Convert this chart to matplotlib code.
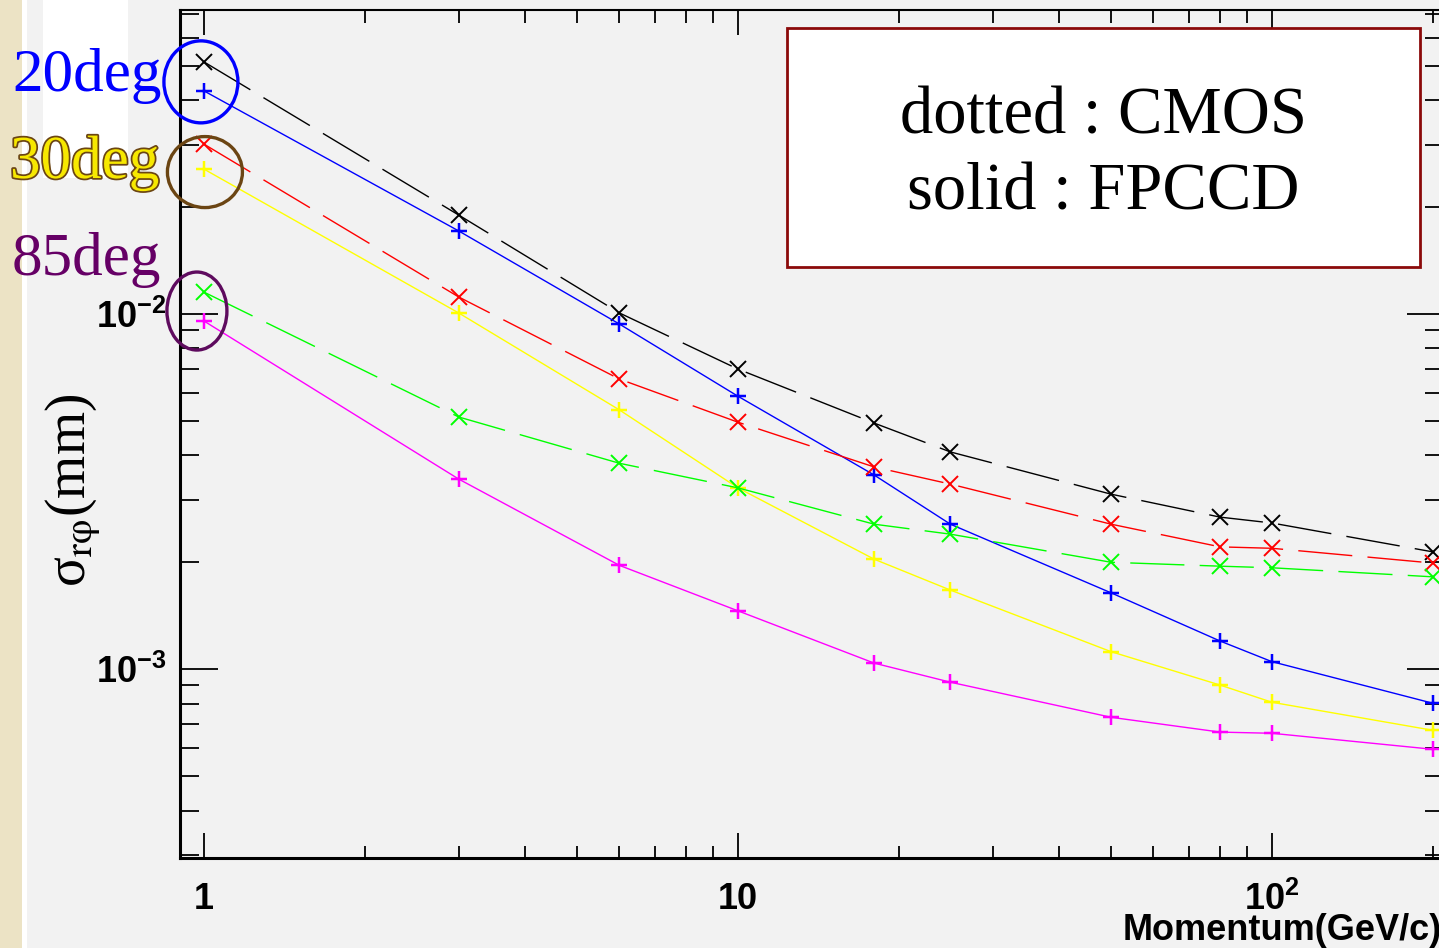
import matplotlib
matplotlib.use('Agg')
import matplotlib.pyplot as plt
import matplotlib.patheffects as pe
from matplotlib.patches import Ellipse, Rectangle
from matplotlib import font_manager

# momentum points (GeV/c)
momentum = [1, 3, 6, 10, 18, 25, 50, 80, 100, 200]

# sigma_rphi (mm), CMOS = dashed, FPCCD = solid
cmos_20 = [0.0513, 0.0190, 0.01007, 0.00700, 0.00493, 0.00409, 0.00311, 0.00268, 0.00258, 0.00214]
fpccd_20 = [0.0425, 0.01714, 0.00937, 0.00587, 0.00352, 0.00256, 0.00164, 0.00120, 0.00105, 0.000802]
cmos_30 = [0.0301, 0.01117, 0.00656, 0.00496, 0.00371, 0.00332, 0.00256, 0.00221, 0.00219, 0.00199]
fpccd_30 = [0.0256, 0.01007, 0.00537, 0.00324, 0.00204, 0.00167, 0.00112, 0.000902, 0.000807, 0.000673]
cmos_85 = [0.01153, 0.00513, 0.00380, 0.00324, 0.00256, 0.00240, 0.00200, 0.00195, 0.00193, 0.00182]
fpccd_85 = [0.00956, 0.00343, 0.00196, 0.00146, 0.00104, 0.000919, 0.000732, 0.000665, 0.000660, 0.000595]

angle_labels = ['20deg', '30deg', '85deg']
legend_lines = ['dotted : CMOS', 'solid : FPCCD']

names = {f.name for f in font_manager.fontManager.ttflist}
sans = 'Liberation Sans Narrow' if 'Liberation Sans Narrow' in names else 'Liberation Sans'
serif = 'Liberation Serif'
narrow = sans.endswith('Narrow')
tick_fs = 28 if narrow else 26
xlab_fs = 30 if narrow else 26

plt.rcParams['mathtext.fontset'] = 'custom'
plt.rcParams['mathtext.rm'] = sans + ':bold'
plt.rcParams['mathtext.it'] = sans + ':bold'
plt.rcParams['mathtext.bf'] = sans + ':bold'

W, H = 1439, 948
fig = plt.figure(figsize=(W / 100, H / 100), dpi=100, facecolor='#f2f2f2')


def fx(x):
    return x / W


def fy(y):
    return 1 - y / H


# background decoration on the left
fig.add_artist(Rectangle((0, 0), fx(22), 1, transform=fig.transFigure,
                         fc='#ece3c5', ec='none', zorder=-2))
fig.add_artist(Rectangle((fx(22), 0), fx(5), 1, transform=fig.transFigure,
                         fc='white', ec='none', zorder=-2))
fig.add_artist(Rectangle((fx(43), fy(178)), fx(85), 178 / H, transform=fig.transFigure,
                         fc='white', ec='none', zorder=-2))

ax_l, ax_r, ax_t, ax_b = 180, 1444, 10, 858
ax = fig.add_axes([fx(ax_l), fy(ax_b), (ax_r - ax_l) / W, (ax_b - ax_t) / H])
ax.set_facecolor('#f2f2f2')
ax.set_xscale('log')
ax.set_yscale('log')
ax.set_xlim(0.902, 210)
ax.set_ylim(2.94e-4, 0.0718)

dash = (39, 11)
ms, mew = 11.5, 1.4
ax.plot(momentum, cmos_20, color='black', lw=1, dashes=dash, marker='x', ms=ms, mew=mew)
ax.plot(momentum, fpccd_20, color='#0000ff', lw=1, marker='+', ms=ms, mew=mew + 0.4)
ax.plot(momentum, cmos_30, color='#ff0000', lw=1, dashes=dash, marker='x', ms=ms, mew=mew)
ax.plot(momentum, fpccd_30, color='#ffff00', lw=1, marker='+', ms=ms, mew=mew + 0.4)
ax.plot(momentum, cmos_85, color='#00ff00', lw=1, dashes=dash, marker='x', ms=ms, mew=mew)
ax.plot(momentum, fpccd_85, color='#ff00ff', lw=1, marker='+', ms=ms, mew=mew + 0.4)

for side in ['left', 'bottom']:
    ax.spines[side].set_linewidth(2.2)
for side in ['top', 'right']:
    ax.spines[side].set_linewidth(1.5)

ax.tick_params(which='both', direction='in', top=True, right=True, width=1.3, color='black')
ax.tick_params(axis='x', which='major', length=18, pad=17)
ax.tick_params(axis='x', which='minor', length=9)
ax.tick_params(axis='y', which='major', length=27, pad=10)
ax.tick_params(axis='y', which='minor', length=13.5)

ax.set_xticks([1, 10, 100])
ax.set_xticklabels(['1', '10', '10$^{2}$'])
ax.set_yticks([1e-3, 1e-2])
ax.set_yticklabels(['10$^{-3}$', '10$^{-2}$'])
ax.xaxis.set_minor_formatter(plt.NullFormatter())
ax.yaxis.set_minor_formatter(plt.NullFormatter())
for lab in ax.get_xticklabels() + ax.get_yticklabels():
    lab.set_fontfamily(sans)
    lab.set_fontweight('bold')
    lab.set_fontsize(tick_fs)

fig.text(fx(1442), fy(940), 'Momentum(GeV/c)', ha='right', va='baseline',
         fontfamily=sans, fontweight='bold', fontsize=xlab_fs)
fig.text(fx(73), fy(490), 'σ$_{\\mathrm{rφ}}$(mm)', rotation=90,
         ha='center', va='center', fontfamily=serif, fontsize=40, math_fontfamily='stix')

# angle labels
fig.text(fx(12), fy(91), angle_labels[0], ha='left', va='baseline',
         fontfamily=serif, fontsize=44, color='#0000ff')
fig.text(fx(10), fy(178), angle_labels[1], ha='left', va='baseline',
         fontfamily=serif, fontsize=44, color='#f7e800',
         path_effects=[pe.withStroke(linewidth=2.5, foreground='#6b4513')])
fig.text(fx(12), fy(275), angle_labels[2], ha='left', va='baseline',
         fontfamily=serif, fontsize=44, color='#660066')

# ellipses around first points (offsets in pixels from pair midpoint)
to_axes = ax.transData + ax.transAxes.inverted()
ax_w, ax_h = ax_r - ax_l, ax_b - ax_t
rings = [(cmos_20[0], fpccd_20[0], -3, -5.5, 74, 82, '#0000ff'),
         (cmos_30[0], fpccd_30[0], 1, -15.5, 75, 71, '#6b4513'),
         (cmos_85[0], fpccd_85[0], -7, -4.5, 60, 78, '#5e0b5e')]
for y1, y2, dx, dy, w, h, c in rings:
    cx, cy = to_axes.transform((momentum[0], (y1 * y2) ** 0.5))
    ax.add_patch(Ellipse((cx + dx / ax_w, cy + dy / ax_h), w / ax_w, h / ax_h,
                         transform=ax.transAxes, fill=False, ec=c, lw=2.4,
                         clip_on=False, zorder=6))

# text box
fig.add_artist(Rectangle((fx(787), fy(267)), (1420 - 787) / W, (267 - 28) / H,
                         transform=fig.transFigure, fc='white', ec='#8b0a0a', lw=2, zorder=5))
fig.text(fx(1103), fy(133), legend_lines[0], ha='center', va='baseline',
         fontfamily=serif, fontsize=48, zorder=6)
fig.text(fx(1103), fy(210), legend_lines[1], ha='center', va='baseline',
         fontfamily=serif, fontsize=48, zorder=6)

fig.savefig('out.png', dpi=100, facecolor=fig.get_facecolor())
